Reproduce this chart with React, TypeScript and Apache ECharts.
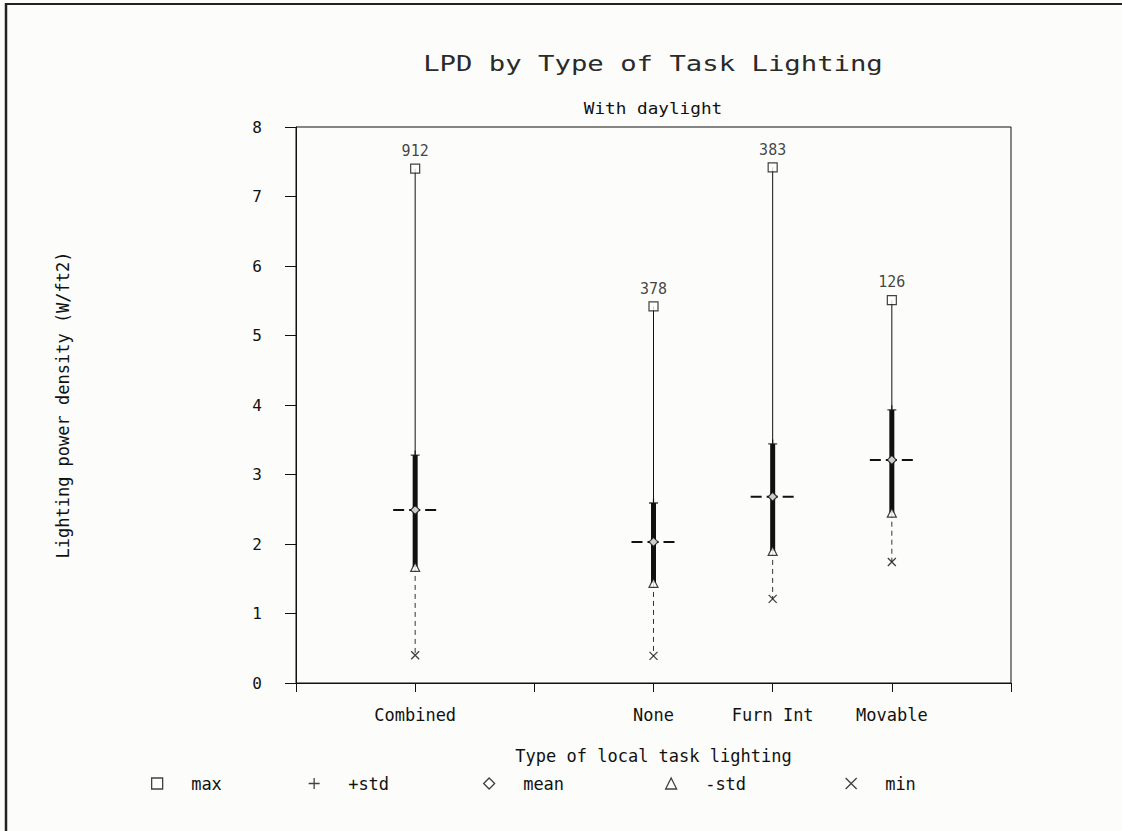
import React, { useEffect, useRef } from "react";
import * as echarts from "echarts";

// ---- data ----
const categories = ["Combined", "None", "Furn Int", "Movable"];
const xTickLabels = ["", "Combined", "", "None", "Furn Int", "Movable", ""];
const yTicks = [0, 1, 2, 3, 4, 5, 6, 7, 8];
const maxVals = [7.4, 5.42, 7.42, 5.51];
const plusStd = [3.28, 2.59, 3.44, 3.93];
const meanVals = [2.49, 2.03, 2.68, 3.21];
const minusStd = [1.67, 1.44, 1.9, 2.45];
const minVals = [0.4, 0.39, 1.21, 1.74];
const counts = [912, 378, 383, 126];
const legendNames = ["max", "+std", "mean", "-std", "min"];

const FONT = "DejaVu Sans Mono";
const INK = "#111";

const xIdx = categories.map((c) => xTickLabels.indexOf(c));
const pts = (vals: number[]) => vals.map((v, i) => [xIdx[i], v]);

const SYM_SQUARE = "path://M0,0H10V10H0Z";
const SYM_PLUS = "path://M5,0V10M0,5H10";
const SYM_DIAMOND = "path://M5,0L10,5L5,10L0,5Z";
const SYM_TRI = "path://M5,0L10,10H0Z";
const SYM_X = "path://M0,0L10,10M10,0L0,10";

export default function App() {
  const ref = useRef<HTMLDivElement>(null);
  useEffect(() => {
    if (!ref.current) return;
    const chart = echarts.init(ref.current, undefined, { renderer: "svg" });

    const hollow = { color: "#fff", borderColor: INK, borderWidth: 1.2 };
    const stroked = { color: INK, borderColor: INK, borderWidth: 1.3 };

    const legendLefts = [151, 308, 483, 665, 845];

    const option: any = {
      animation: false,
      backgroundColor: "#fcfcfa",
      textStyle: { fontFamily: FONT, color: INK },
      graphic: [
        {
          type: "text",
          x: 653,
          y: 63,
          scaleX: 1.24,
          style: {
            text: "LPD by Type of Task Lighting",
            font: `22px "${FONT}"`,
            fill: "#2a2a2a",
            textAlign: "center",
            textVerticalAlign: "middle",
          },
        },
        {
          type: "text",
          x: 653,
          y: 109,
          scaleX: 1.18,
          style: {
            text: "With daylight",
            font: `15px "${FONT}"`,
            fill: INK,
            textAlign: "center",
            textVerticalAlign: "middle",
          },
        },
        {
          type: "line",
          shape: { x1: 5, y1: 4, x2: 1122, y2: 4 },
          style: { stroke: "#222", lineWidth: 2 },
        },
        {
          type: "line",
          shape: { x1: 6, y1: 3, x2: 6, y2: 831 },
          style: { stroke: "#222", lineWidth: 2.5 },
        },
      ],
      grid: {
        left: 296,
        right: 111,
        top: 127,
        bottom: 148,
        show: true,
        borderColor: INK,
        borderWidth: 1,
        backgroundColor: "transparent",
      },
      xAxis: {
        type: "value",
        min: 0,
        max: xTickLabels.length - 1,
        interval: 1,
        name: "Type of local task lighting",
        nameLocation: "middle",
        nameGap: 64,
        nameTextStyle: { fontFamily: FONT, fontSize: 17, color: INK },
        axisLine: { show: true, onZero: false, lineStyle: { color: INK, width: 1 } },
        axisTick: { show: true, inside: false, length: 9, lineStyle: { color: INK } },
        axisLabel: {
          margin: 23,
          fontFamily: FONT,
          fontSize: 17,
          color: INK,
          formatter: (v: number) => xTickLabels[Math.round(v)] ?? "",
        },
        splitLine: { show: false },
      },
      yAxis: {
        type: "value",
        min: yTicks[0],
        max: yTicks[yTicks.length - 1],
        interval: 1,
        name: "Lighting power density (W/ft2)",
        nameLocation: "middle",
        nameRotate: 90,
        nameGap: 225,
        nameTextStyle: { fontFamily: FONT, fontSize: 17, color: INK },
        axisLine: { show: true, lineStyle: { color: INK, width: 1 } },
        axisTick: { show: true, inside: false, length: 11, lineStyle: { color: INK } },
        axisLabel: { margin: 34, fontFamily: FONT, fontSize: 16, color: INK },
        splitLine: { show: false },
      },
      legend: legendNames.map((n, i) => ({
        data: [n],
        left: legendLefts[i],
        top: 775,
        itemWidth: 58,
        itemHeight: 11,
        itemGap: 0,
        padding: 0,
        symbolKeepAspect: true,
        selectedMode: false,
        textStyle: { fontFamily: FONT, fontSize: 17, color: INK },
        itemStyle: { borderWidth: i === 1 || i === 4 ? 1.3 : 1.3 },
      })),
      series: [
        {
          type: "custom",
          name: "range",
          z: 2,
          data: categories.map((_, i) => [
            xIdx[i],
            maxVals[i],
            plusStd[i],
            meanVals[i],
            minusStd[i],
            minVals[i],
          ]),
          encode: { x: 0, y: [1, 2, 3, 4, 5] },
          renderItem: (params: any, api: any) => {
            const x = api.value(0);
            const pMax = api.coord([x, api.value(1)]);
            const pPlus = api.coord([x, api.value(2)]);
            const pMean = api.coord([x, api.value(3)]);
            const pMinus = api.coord([x, api.value(4)]);
            const pMin = api.coord([x, api.value(5)]);
            return {
              type: "group",
              children: [
                {
                  type: "line",
                  shape: { x1: pMax[0], y1: pMax[1], x2: pPlus[0], y2: pPlus[1] },
                  style: { stroke: INK, lineWidth: 1 },
                },
                {
                  type: "line",
                  shape: { x1: pMinus[0], y1: pMinus[1], x2: pMin[0], y2: pMin[1] },
                  style: { stroke: "#333", lineWidth: 1, lineDash: [5, 4] },
                },
                {
                  type: "rect",
                  shape: {
                    x: pPlus[0] - 2.5,
                    y: pPlus[1],
                    width: 5,
                    height: pMinus[1] - pPlus[1],
                  },
                  style: { fill: INK },
                },
                {
                  type: "line",
                  shape: {
                    x1: pMean[0] - 22,
                    y1: pMean[1],
                    x2: pMean[0] + 22,
                    y2: pMean[1],
                  },
                  style: { stroke: INK, lineWidth: 2, lineDash: [11, 5] },
                },
              ],
            };
          },
        },
        {
          type: "scatter",
          name: "max",
          z: 3,
          symbol: SYM_SQUARE,
          symbolSize: 9,
          itemStyle: hollow,
          data: pts(maxVals),
          label: {
            show: true,
            position: "top",
            distance: 5,
            fontFamily: FONT,
            fontSize: 15,
            color: INK,
            formatter: (p: any) => String(counts[p.dataIndex]),
          },
        },
        {
          type: "scatter",
          name: "+std",
          z: 3,
          symbol: SYM_PLUS,
          symbolSize: 9,
          itemStyle: stroked,
          data: pts(plusStd),
        },
        {
          type: "scatter",
          name: "mean",
          z: 3,
          symbol: SYM_DIAMOND,
          symbolSize: 9,
          itemStyle: hollow,
          data: pts(meanVals),
        },
        {
          type: "scatter",
          name: "-std",
          z: 3,
          symbol: SYM_TRI,
          symbolSize: 9,
          itemStyle: hollow,
          data: pts(minusStd),
        },
        {
          type: "scatter",
          name: "min",
          z: 3,
          symbol: SYM_X,
          symbolSize: 8,
          itemStyle: stroked,
          data: pts(minVals),
        },
      ],
    };

    chart.setOption(option);
    return () => chart.dispose();
  }, []);

  return (
    <div
      ref={ref}
      style={{ position: "fixed", left: 0, top: 0, width: 1122, height: 831 }}
    />
  );
}
